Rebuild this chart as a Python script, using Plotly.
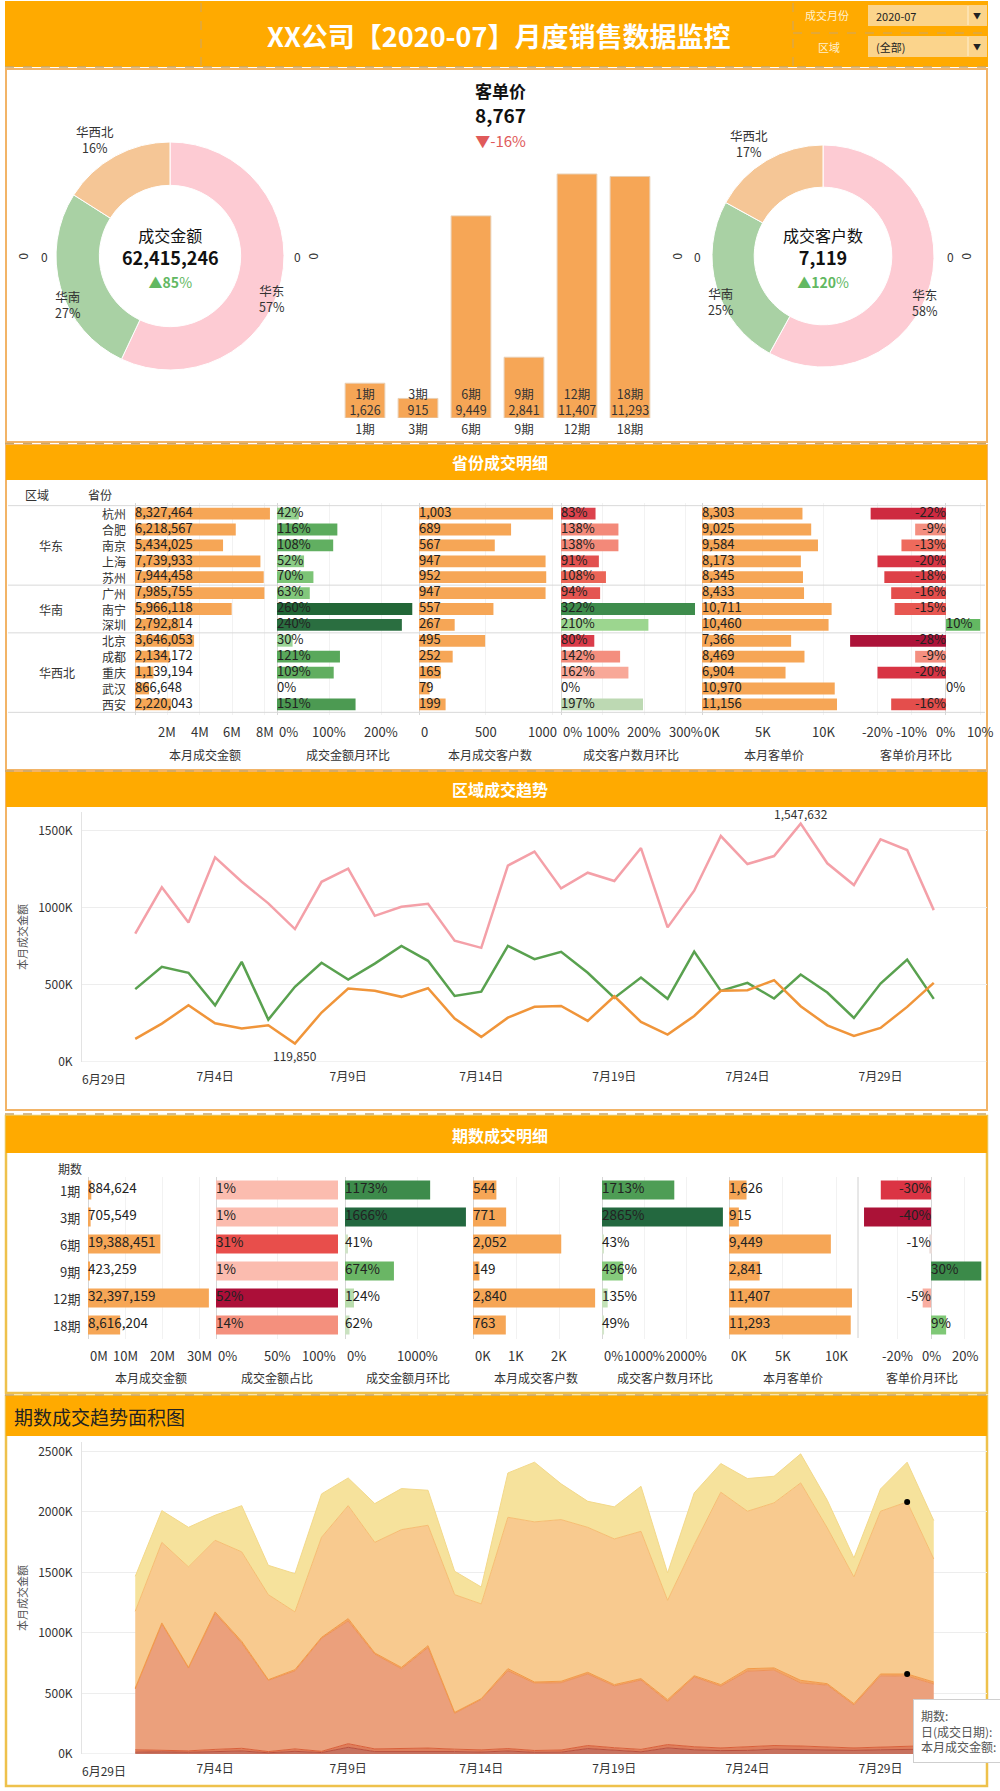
import plotly.graph_objects as go
import pandas as pd
import numpy as np

W, H = 1000, 1791
FONT = "Noto Sans CJK SC, Noto Sans, sans-serif"
TXT = "#333333"
BAND = "#FFAA00"
BORDER = "#F2B467"
BORDER2 = "#EEC14C"
BAR = "#F6A656"
PINK, GREEN, LORANGE = "#FDCBD3", "#A9D1A4", "#F5C696"
UP, DOWN = "#62B862", "#E05A5A"

# ---------------- data ----------------
report_month = "2020-07"
regions = ["华东", "华南", "华西北"]
region_amount_share = [57, 27, 16]
region_customer_share = [58, 25, 17]
kpi_amount = 62415246
kpi_amount_growth = 85
kpi_customers = 7119
kpi_customers_growth = 120
kpi_price = 8767
kpi_price_growth = -16

periods = ["1期", "3期", "6期", "9期", "12期", "18期"]
period_price = [1626, 915, 9449, 2841, 11407, 11293]

prov_regions = ["华东", "华南", "华西北"]
prov_region_mid = ["南京", "南宁", "重庆"]
provinces = ["杭州", "合肥", "南京", "上海", "苏州", "广州", "南宁", "深圳",
             "北京", "成都", "重庆", "武汉", "西安"]
prov_amount = [8327464, 6218567, 5434025, 7739933, 7944458, 7985755, 5966118,
               2792814, 3646053, 2134172, 1139194, 866648, 2220043]
prov_amount_mom = [42, 116, 108, 52, 70, 63, 260, 240, 30, 121, 109, 0, 151]
prov_customers = [1003, 689, 567, 947, 952, 947, 557, 267, 495, 252, 165, 79, 199]
prov_customers_mom = [83, 138, 138, 91, 108, 94, 322, 210, 80, 142, 162, 0, 197]
prov_price = [8303, 9025, 9584, 8173, 8345, 8433, 10711, 10460, 7366, 8469, 6904, 10970, 11156]
prov_price_mom = [-22, -9, -13, -20, -18, -16, -15, 10, -28, -9, -20, 0, -16]

period_amount = [884624, 705549, 19388451, 423259, 32397159, 8616204]
period_share = [1, 1, 31, 1, 52, 14]
period_amount_mom = [1173, 1666, 41, 674, 124, 62]
period_customers = [544, 771, 2052, 149, 2840, 763]
period_customers_mom = [1713, 2865, 43, 496, 135, 49]
period_price_mom = [-30, -40, -1, 30, -5, 9]

dates = pd.date_range("2020-07-01", periods=31, freq="D")
east_k = [834, 1134, 906, 1329, 1170, 1030, 863, 1170, 1255, 949, 1008, 1027, 787, 741, 1275,
          1366, 1127, 1229, 1175, 1389, 874, 1112, 1467, 1285, 1337, 1547.632, 1290, 1149, 1446, 1376, 986]
south_k = [473, 618, 579, 368, 650, 275, 488, 644, 535, 639, 754, 657, 429, 457, 754,
           668, 715, 579, 416, 548, 410, 717, 462, 514, 412, 568, 451, 286, 509, 665, 410]
northwest_k = [150, 249, 368, 251, 217, 238, 119.85, 321, 477, 462, 423, 479, 282, 163, 288,
               358, 364, 267, 427, 260, 178, 299, 462, 466, 531, 362, 238, 169, 221, 358, 514]

area_1 = [15, 18, 14, 20, 25, 10, 22, 12, 55, 20, 22, 24, 20, 16, 25, 14, 15, 45, 30, 18,
          50, 35, 28, 30, 40, 38, 32, 30, 35, 40, 40]
area_3 = [20, 15, 12, 18, 22, 10, 20, 10, 30, 22, 25, 25, 20, 18, 20, 15, 18, 25, 22, 20,
          28, 25, 22, 28, 30, 28, 25, 20, 22, 25, 30]
area_6 = [502, 1040, 684, 1124, 869, 589, 645, 934, 1014, 783, 657, 831, 296, 417, 642, 556,
          556, 591, 511, 573, 356, 577, 511, 627, 623, 521, 512, 356, 589, 578, 509]
area_9 = [8, 10, 6, 12, 15, 5, 10, 8, 20, 10, 12, 15, 8, 6, 18, 10, 12, 14, 10, 12,
          15, 10, 12, 20, 18, 22, 12, 10, 15, 18, 16]
area_12 = [634, 666, 830, 592, 739, 703, 477, 827, 933, 914, 1138, 995, 973, 783, 1251, 1323,
           1336, 1198, 1204, 1217, 821, 1083, 1590, 1301, 1364, 1631, 1287, 1047, 1345, 1422, 1017]
area_18 = [289, 262, 327, 207, 382, 242, 316, 358, 229, 320, 339, 289, 193, 140, 366, 493,
           295, 215, 265, 372, 226, 427, 237, 270, 220, 240, 229, 157, 184, 328, 317]
highlight_day = 29

date_tick_vals = ["2020-07-04", "2020-07-09", "2020-07-14", "2020-07-19", "2020-07-24", "2020-07-29"]
date_tick_text = ["7月4日", "7月9日", "7月14日", "7月19日", "7月24日", "7月29日"]
first_date_tick = ("2020-06-29", "6月29日")
line_y_ticks = [0, 500, 1000, 1500]
area_y_ticks = [0, 500, 1000, 1500, 2000, 2500]

# ---------------- helpers ----------------
def xd(a, b):
    return [a / W, b / W]


def yd(t, b):
    return [1 - b / H, 1 - t / H]


def PX(x):
    return x / W


def PY(y):
    return 1 - y / H


fig = go.Figure()
ann = []
shapes = []
axes = {}


def text(x, y, s, size=13, color=TXT, bold=False, xanchor="center", yanchor="middle", **kw):
    if bold:
        s = f"<b>{s}</b>"
    ann.append(dict(x=PX(x), y=PY(y), xref="paper", yref="paper", text=s, showarrow=False,
                    font=dict(size=size, color=color, family=FONT), xanchor=xanchor,
                    yanchor=yanchor, **kw))


def rect(x0, y0, x1, y1, fill=None, line=None, lw=0, dash=None, layer="below"):
    shapes.append(dict(type="rect", xref="paper", yref="paper", x0=PX(x0), x1=PX(x1),
                       y0=PY(y1), y1=PY(y0), fillcolor=fill or "rgba(0,0,0,0)",
                       line=dict(color=line or "rgba(0,0,0,0)", width=lw, dash=dash or "solid"),
                       layer=layer))


def seg(x0, y0, x1, y1, color, width=1, dash="solid", layer="above"):
    shapes.append(dict(type="line", xref="paper", yref="paper", x0=PX(x0), x1=PX(x1),
                       y0=PY(y0), y1=PY(y1), line=dict(color=color, width=width, dash=dash),
                       layer=layer))


DASH = "#C9A66B"

# ---------------- frame / header ----------------
rect(5, 1, 988, 67, fill=BAND)
seg(201, 3, 201, 66, DASH, 1, "dash")
seg(793, 3, 793, 66, DASH, 1, "dash")
seg(793, 33, 987, 33, DASH, 1, "dash")
seg(5, 67, 987, 67, DASH, 1.5, "dash")
text(498, 36, f"XX公司【{report_month}】月度销售数据监控", size=27, color="white", bold=True)
text(827, 15, "成交月份", size=11, color="#FFF1CF")
text(829, 47, "区域", size=11, color="#FFF1CF")
rect(868, 5, 987, 26, fill="#FBD48C", layer="above")
rect(868, 36, 987, 57, fill="#FBD48C", layer="above")
seg(968, 6, 968, 25, "#FFF0D0", 1)
seg(968, 37, 968, 56, "#FFF0D0", 1)
text(874, 15.5, report_month, size=11, color="#222", xanchor="left")
text(874, 46.5, "(全部)", size=11, color="#222", xanchor="left")
text(977, 15.5, "▼", size=8, color="#222")
text(977, 46.5, "▼", size=8, color="#222")

# panels
rect(6, 69, 987, 442, line=BORDER, lw=2)
seg(5, 443.5, 987, 443.5, DASH, 1.5, "dash")
rect(6, 445, 987, 770, line=BORDER, lw=2)
rect(6, 445, 987, 480, fill=BAND)
seg(5, 771, 987, 771, DASH, 1.5, "dash")
rect(6, 772, 987, 1110, line=BORDER, lw=2)
rect(6, 772, 987, 807, fill=BAND)
seg(5, 1114, 987, 1114, DASH, 1.5, "dash")
rect(6, 1116, 987, 1393, line=BORDER2, lw=2.5)
rect(6, 1116, 987, 1153, fill=BAND)
seg(5, 1395, 987, 1395, DASH, 1.5, "dash")
rect(6, 1396, 987, 1786, line=BORDER2, lw=2.5)
rect(6, 1396, 987, 1436, fill=BAND)

text(500, 462, "省份成交明细", size=16, color="white", bold=True)
text(500, 789, "区域成交趋势", size=16, color="white", bold=True)
text(500, 1135, "期数成交明细", size=16, color="white", bold=True)
text(12, 1416, "期数成交趋势面积图", size=19, color="#222", xanchor="left")

# ---------------- donuts ----------------
def donut(vals, dom_x, dom_y, label_pos):
    fig.add_trace(go.Pie(
        labels=regions, values=vals, hole=0.62, sort=False, direction="clockwise", rotation=0,
        marker=dict(colors=[PINK, GREEN, LORANGE], line=dict(color="white", width=1)),
        textinfo="none", domain=dict(x=dom_x, y=dom_y), showlegend=False, hoverinfo="skip"))
    for r, v, (lx, ly) in zip(regions, vals, label_pos):
        text(lx, ly, f"{r}<br>{v}%", size=12.5, color=TXT)


donut(region_amount_share, xd(56, 284), yd(142, 370), [(272, 299), (68, 304), (95, 139)])
donut(region_customer_share, xd(712, 934), yd(145, 367), [(925, 302), (721, 301), (749, 143)])


def kpi_block(x, y, title, value, growth, base, tsize, vsize, gsize, gcolor, arrow, title_bold=False):
    t = f"<span style='font-size:{tsize}px'>{title}</span>"
    if title_bold:
        t = f"<b>{t}</b>"
    s = (f"{t}<br><span style='font-size:{vsize}px'><b>{value:,}</b></span><br>"
         f"<span style='font-size:{gsize}px;color:{gcolor}'>{arrow}{growth}%</span>")
    ann.append(dict(x=PX(x), y=PY(y), xref="paper", yref="paper", text=s, showarrow=False,
                    font=dict(size=base, color="#111", family=FONT), xanchor="center",
                    yanchor="middle"))


kpi_block(170, 257, "成交金额", kpi_amount, f"<b>{kpi_amount_growth}</b>", 17.5, 16, 18, 14, UP, "<b>▲</b>")
kpi_block(823, 257, "成交客户数", kpi_customers, f"<b>{kpi_customers_growth}</b>", 17.5, 16, 18, 14, UP, "<b>▲</b>")
kpi_block(500, 114, "客单价", kpi_price, kpi_price_growth, 19, 17, 19, 15, DOWN, "▼", title_bold=True)

for xx in (25, 315, 679, 968):
    text(xx, 256, "0", size=12, color=TXT, textangle=90)
for xx in (44, 297, 697, 950):
    text(xx, 256, "0", size=12, color=TXT)

# ---------------- period bar chart ----------------
fig.add_trace(go.Bar(x=periods, y=period_price, width=0.75, xaxis="x", yaxis="y",
                     marker=dict(color=BAR, line=dict(color="#E9CFB3", width=1)), hoverinfo="skip"))
fig.add_trace(go.Scatter(x=periods, y=[0] * len(periods), mode="text", xaxis="x", yaxis="y",
                         text=[f"{p}<br>{v:,}" for p, v in zip(periods, period_price)],
                         textposition="top center", cliponaxis=False,
                         textfont=dict(size=12.5, color=TXT, family=FONT), hoverinfo="skip"))
axes["xaxis"] = dict(domain=xd(338.5, 656.5), anchor="y", type="category", showgrid=False,
                     zeroline=False, showline=False, ticks="", tickfont=dict(size=12.5, color=TXT),
                     automargin=False, fixedrange=True, ticklabelstandoff=2)
axes["yaxis"] = dict(domain=yd(150, 418), anchor="x", range=[0, 12530], visible=False,
                     automargin=False, fixedrange=True)

# ---------------- tables ----------------
def table(cats, yname, row_top, row_bottom, bar_w, cols, first_idx, tick_y, title_y, txt_size):
    axes[yname.replace("y", "yaxis")] = dict(
        domain=yd(row_top, row_bottom), anchor=f"x{first_idx}", type="category",
        categoryarray=cats, autorange="reversed", showticklabels=False, showgrid=False,
        zeroline=False, showline=False, automargin=False, fixedrange=True)
    for i, c in enumerate(cols):
        k = first_idx + i
        xn = f"x{k}"
        vals = c["vals"]
        if "scale" in c:
            mk = dict(color=vals, colorscale=c["scale"], cmin=c["cmin"], cmax=c["cmax"])
        else:
            mk = dict(color=c.get("color", BAR))
        xv = c.get("bar_vals", vals)
        fig.add_trace(go.Bar(x=xv, y=cats, orientation="h", width=bar_w, xaxis=xn, yaxis=yname,
                             marker=mk, hoverinfo="skip"))
        pos = ["middle left" if v < 0 else "middle right" for v in vals]
        fig.add_trace(go.Scatter(x=[0] * len(cats), y=cats, mode="text", xaxis=xn, yaxis=yname,
                                 text=[c["fmt"](v) for v in vals], textposition=pos,
                                 cliponaxis=False, hoverinfo="skip",
                                 textfont=dict(size=txt_size, color="#222", family=FONT)))
        tv = [t[0] for t in c["ticks"]]
        axes[f"xaxis{k}"] = dict(domain=xd(*c["dom"]), range=c["rng"], anchor=yname,
                                 tickvals=tv, showticklabels=False, showgrid=True,
                                 gridcolor="#F2F2F2", zeroline=True, zerolinecolor="#D6D6D6",
                                 zerolinewidth=1, showline=False, automargin=False, fixedrange=True)
        for t in c["ticks"]:
            anchor = t[2] if len(t) > 2 else "center"
            shift = t[3] if len(t) > 3 else 0
            ann.append(dict(x=t[0], y=PY(tick_y), xref=xn, yref="paper", text=t[1],
                            showarrow=False, xanchor=anchor, yanchor="middle", xshift=shift,
                            font=dict(size=13, color=TXT, family=FONT)))
        text((c["dom"][0] + c["dom"][1]) / 2, title_y, c["title"], size=12, color=TXT)


pct = lambda v: f"{v}%"
num = lambda v: f"{v:,}"

prov_cols = [
    dict(vals=prov_amount, fmt=num, dom=(135, 275), rng=[0, 8.64e6], title="本月成交金额",
         ticks=[(2e6, "2M"), (4e6, "4M"), (6e6, "6M"), (8e6, "8M")]),
    dict(vals=prov_amount_mom, fmt=pct, dom=(277, 418), rng=[0, 271], title="成交金额月环比",
         scale=[[0, "#B3DEAB"], [0.12, "#9AD496"], [0.27, "#7CC476"], [0.45, "#5BAA5C"],
                [0.6, "#4A9850"], [0.92, "#2A6E40"], [1, "#226637"]], cmin=0, cmax=260,
         ticks=[(0, "0%", "left"), (100, "100%"), (200, "200%")]),
    dict(vals=prov_customers, fmt=num, dom=(419, 560), rng=[0, 1055], title="本月成交客户数",
         ticks=[(0, "0", "left"), (500, "500"), (1000, "1000", "right", 6)]),
    dict(vals=prov_customers_mom, fmt=pct, dom=(561, 700), rng=[0, 334], title="成交客户数月环比",
         scale=[[0, "#7A1040"], [0.248, "#DA3C4A"], [0.28, "#E2504F"], [0.34, "#EC6758"],
                [0.43, "#F38A7A"], [0.5, "#F8A595"], [0.57, "#EDE3D6"], [0.612, "#BDD9B3"],
                [0.652, "#9CD68F"], [1, "#3E8C4C"]], cmin=0, cmax=322,
         ticks=[(0, "0%", "left"), (100, "100%"), (200, "200%"), (300, "300%")]),
    dict(vals=prov_price, fmt=num, dom=(702, 845), rng=[0, 11818], title="本月客单价",
         ticks=[(0, "0K", "left"), (5000, "5K"), (10000, "10K")]),
    dict(vals=prov_price_mom, fmt=pct, dom=(846, 985), rng=[-29.2, 11.4], title="客单价月环比",
         scale=[[0, "#AC1339"], [0.158, "#CE2A40"], [0.21, "#D83444"], [0.316, "#E44E4C"],
                [0.395, "#EE6A5C"], [0.5, "#F48F80"], [0.737, "#F2F2F2"], [1, "#63B862"]],
         cmin=-28, cmax=10,
         ticks=[(-20, "-20%"), (-10, "-10%"), (0, "0%"), (10, "10%")]),
]
table(provinces, "y2", 503, 715, 0.74, prov_cols, 2, 731, 754, 13)

text(37, 495, "区域", size=12)
text(100, 495, "省份", size=12)
for p in provinces:
    ann.append(dict(x=PX(100), y=p, xref="paper", yref="y2", text=p, showarrow=False,
                    font=dict(size=12, color=TXT, family=FONT)))
for r, mid in zip(prov_regions, prov_region_mid):
    ann.append(dict(x=PX(37), y=mid, xref="paper", yref="y2", text=r, showarrow=False,
                    font=dict(size=12, color=TXT, family=FONT)))
for b in (-0.5, 4.5, 7.5, 12.5):
    shapes.append(dict(type="line", xref="paper", yref="y2", x0=PX(8), x1=PX(985), y0=b, y1=b,
                       line=dict(color="#D9D9D9", width=1), layer="above"))

period_cols = [
    dict(vals=period_amount, fmt=num, dom=(88, 213), rng=[0, 33.5e6], title="本月成交金额",
         ticks=[(0, "0M", "left"), (10e6, "10M"), (20e6, "20M"), (30e6, "30M")]),
    dict(vals=period_share, bar_vals=[100] * len(periods), fmt=pct, dom=(216, 338), rng=[0, 100],
         title="成交金额占比",
         scale=[[0, "#FCC0B2"], [0.02, "#FBBCAF"], [0.27, "#F4907D"], [0.6, "#E84D4A"],
                [1, "#AC0F39"]], cmin=0, cmax=52,
         ticks=[(0, "0%", "left"), (50, "50%"), (100, "100%", "right")]),
    dict(vals=period_amount_mom, fmt=pct, dom=(345, 470), rng=[0, 1722], title="成交金额月环比",
         scale=[[0, "#DCE7D5"], [0.075, "#B8DCAC"], [0.4, "#6BB765"], [0.7, "#3D8B4B"],
                [1, "#23683F"]], cmin=0, cmax=1666,
         ticks=[(0, "0%", "left"), (1000, "1000%")]),
    dict(vals=period_customers, fmt=num, dom=(473, 598), rng=[0, 2907], title="本月成交客户数",
         ticks=[(0, "0K", "left"), (1000, "1K"), (2000, "2K")]),
    dict(vals=period_customers_mom, fmt=pct, dom=(602, 727), rng=[0, 2962], title="成交客户数月环比",
         scale=[[0, "#DCE7D5"], [0.047, "#C3E2B7"], [0.173, "#86CB7C"], [0.6, "#4E9D55"],
                [1, "#23683F"]], cmin=0, cmax=2865,
         ticks=[(0, "0%", "left"), (1000, "1000%"), (2000, "2000%")]),
    dict(vals=period_price, fmt=num, dom=(729, 857), rng=[0, 11874], title="本月客单价",
         ticks=[(0, "0K", "left"), (5000, "5K"), (10000, "10K")]),
    dict(vals=period_price_mom, fmt=pct, dom=(858, 985), rng=[-43.6, 32.2], title="客单价月环比",
         scale=[[0, "#AB1237"], [0.143, "#DB3444"], [0.5, "#F9ADA0"], [0.571, "#E6E6E6"],
                [0.7, "#7FC876"], [1, "#3B8A49"]], cmin=-40, cmax=30,
         ticks=[(-20, "-20%"), (0, "0%"), (20, "20%")]),
]
table(periods, "y4", 1176.5, 1338.5, 0.7, period_cols, 9, 1355, 1377, 13.5)
text(70, 1168, "期数", size=12)
for p in periods:
    ann.append(dict(x=PX(82), y=p, xref="paper", yref="y4", text=p, showarrow=False,
                    xanchor="right", font=dict(size=13, color=TXT, family=FONT)))
seg(858, 1177, 858, 1338, "#D0D0D0", 1)

# ---------------- line chart ----------------
LINE_COLORS = ["#F4A0A8", "#59A14F", "#F0953A"]
for vals, col in zip([east_k, south_k, northwest_k], LINE_COLORS):
    fig.add_trace(go.Scatter(x=dates, y=vals, mode="lines", xaxis="x8", yaxis="y3",
                             line=dict(color=col, width=2.5), hoverinfo="skip"))
imax = int(np.argmax(east_k))
imin = int(np.argmin(northwest_k))
ann.append(dict(x=dates[imax], y=east_k[imax], xref="x8", yref="y3",
                text=f"{round(east_k[imax] * 1000):,}", showarrow=False, yshift=10,
                font=dict(size=12, color=TXT, family=FONT)))
ann.append(dict(x=dates[imin], y=northwest_k[imin], xref="x8", yref="y3",
                text=f"{round(northwest_k[imin] * 1000):,}", showarrow=False, yshift=-12,
                font=dict(size=12, color=TXT, family=FONT)))


def date_axes(xname, yname, ytop, ybottom, yrange, yticks):
    axes[xname.replace("x", "xaxis")] = dict(
        domain=xd(82, 987), anchor=yname, type="date", range=["2020-06-29", "2020-08-02"],
        tickvals=date_tick_vals, ticktext=date_tick_text, showgrid=False, zeroline=False,
        showline=False, ticks="", tickfont=dict(size=12, color=TXT), automargin=False,
        fixedrange=True, ticklabelstandoff=6)
    axes[yname.replace("y", "yaxis")] = dict(
        domain=yd(ytop, ybottom), anchor=xname, range=yrange, tickvals=yticks,
        ticktext=[f"{v}K" for v in yticks], showgrid=True, gridcolor="#EDEDED", zeroline=False,
        showline=True, linecolor="#E3E3E3", ticks="", tickfont=dict(size=12, color=TXT),
        automargin=False, fixedrange=True, ticklabelstandoff=6)
    shapes.append(dict(type="line", xref="paper", yref=yname, x0=PX(82), x1=PX(987), y0=0, y1=0,
                       line=dict(color="#E3E3E3", width=1), layer="below"))
    ann.append(dict(x=first_date_tick[0], y=PY(ybottom + 16), xref=xname, yref="paper",
                    text=first_date_tick[1], showarrow=False, xanchor="left", yanchor="middle",
                    xshift=-2, font=dict(size=12, color=TXT, family=FONT)))
    text(22, (ytop + ybottom) / 2, "本月成交金额", size=11, color="#555", textangle=-90)


date_axes("x8", "y3", 812, 1062, [0, 1623], line_y_ticks)

# ---------------- area chart ----------------
AREA_STYLE = [("#B9503E", "#C7725F"), ("#D9603A", "#DE7E5C"), ("#EE9358", "#EBA07C"),
              ("#F29A48", "#F3A766"), ("#F6BD72", "#F8CA8F"), ("#F3D98A", "#F6E29C")]
area_series = [area_1, area_3, area_6, area_9, area_12, area_18]
for name, vals, (lc, fc) in zip(periods, area_series, AREA_STYLE):
    fig.add_trace(go.Scatter(x=dates, y=vals, mode="lines", stackgroup="one", name=name,
                             xaxis="x16", yaxis="y5", line=dict(color=lc, width=1),
                             fillcolor=fc, hoverinfo="skip"))
cum = np.cumsum(np.array(area_series, dtype=float), axis=0)
fig.add_trace(go.Scatter(x=[dates[highlight_day]] * 2,
                         y=[cum[4][highlight_day], cum[3][highlight_day]], mode="markers",
                         xaxis="x16", yaxis="y5", marker=dict(color="black", size=6),
                         hoverinfo="skip"))
date_axes("x16", "y5", 1442, 1754, [0, 2578], area_y_ticks)

ann.append(dict(x=PX(913), y=PY(1699), xref="paper", yref="paper",
                text="期数:<br>日(成交日期):<br>本月成交金额:", showarrow=False, align="left",
                xanchor="left", yanchor="top", bgcolor="white", bordercolor="#CFCFCF",
                borderwidth=1, borderpad=7, width=110,
                font=dict(size=12, color="#555", family=FONT)))

fig.update_layout(
    width=W, height=H, margin=dict(l=0, r=0, t=0, b=0), autosize=False,
    template="none", paper_bgcolor="white", plot_bgcolor="rgba(0,0,0,0)",
    showlegend=False, hovermode=False, barmode="overlay",
    font=dict(family=FONT, color=TXT, size=12),
    annotations=ann, shapes=shapes, **axes)

fig.write_html("out.html")
